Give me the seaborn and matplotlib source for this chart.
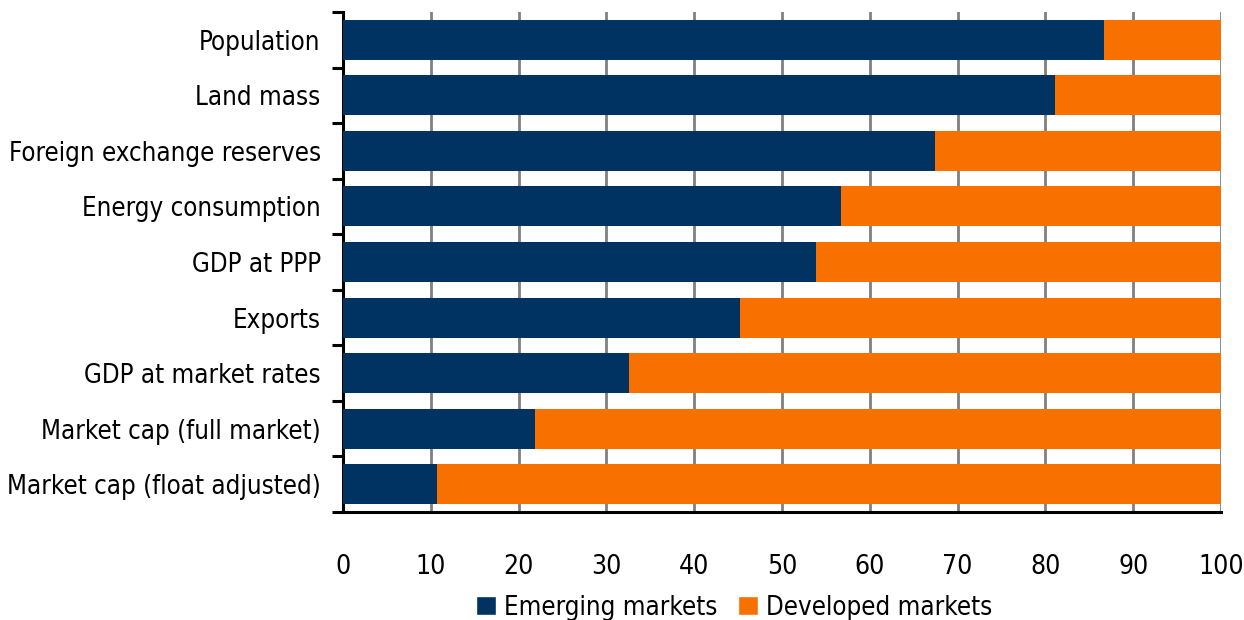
import numpy as np
import pandas as pd
import matplotlib
matplotlib.use("Agg")
import matplotlib.pyplot as plt
import seaborn as sns
from matplotlib.patches import Patch

categories = ["Population", "Land mass", "Foreign exchange reserves",
              "Energy consumption", "GDP at PPP", "Exports",
              "GDP at market rates", "Market cap (full market)",
              "Market cap (float adjusted)"]
emerging = [86.7, 81.1, 67.4, 56.7, 53.9, 45.2, 32.6, 21.9, 10.7]
developed = [13.3, 18.9, 32.6, 43.3, 46.1, 54.8, 67.4, 78.1, 89.3]

navy = "#003362"
orange = "#F87000"

df = pd.DataFrame({"Category": categories, "Emerging": emerging, "Developed": developed})
df["Total"] = df["Emerging"] + df["Developed"]

sns.set_style("white")
plt.rcParams["font.family"] = ["DejaVu Sans"]
plt.rcParams["font.stretch"] = "condensed"
plt.rcParams["text.color"] = "black"

fig = plt.figure(figsize=(12.44, 6.2), dpi=100)
ax = fig.add_axes([0.2757, 0.1742, 0.7058, 0.8064])

# orange = full bar, navy drawn on top
sns.barplot(data=df, x="Total", y="Category", color=orange, orient="h",
            width=0.72, saturation=1, linewidth=0, ax=ax, zorder=2)
sns.barplot(data=df, x="Emerging", y="Category", color=navy, orient="h",
            width=0.72, saturation=1, linewidth=0, ax=ax, zorder=3)

ax.set_xlim(0, 100)
ax.set_ylim(8.5, -0.5)
ax.set_xticks(np.arange(0, 101, 10))
ax.tick_params(axis="x", labelsize=19, length=10, width=2.2, pad=20, direction="out",
               color="black", labelcolor="black")

# category labels as minor ticks, boundary marks as major ticks
ax.set_yticks(np.arange(-0.5, 9, 1))
ax.set_yticklabels([])
ax.set_yticks(np.arange(len(categories)), minor=True)
ax.set_yticklabels(categories, minor=True)
ax.tick_params(axis="y", which="major", length=8, width=2.2, direction="out", color="black", left=True)
ax.tick_params(axis="y", which="minor", length=0, labelsize=18.5, pad=16, labelcolor="black")

ax.xaxis.grid(True, color="#808080", linewidth=2)
ax.yaxis.grid(False)
ax.set_axisbelow(True)
sns.despine(ax=ax, top=True, right=True)
for s in ["left", "bottom"]:
    ax.spines[s].set_color("black")
    ax.spines[s].set_linewidth(2.2)
ax.set_xlabel("")
ax.set_ylabel("")

handles = [Patch(facecolor=navy, label="Emerging markets"),
           Patch(facecolor=orange, label="Developed markets")]
fig.legend(handles=handles, loc="center", bbox_to_anchor=(0.59, 0.02), ncol=2,
           frameon=False, fontsize=18.5, handlelength=0.8, handleheight=0.8,
           handletextpad=0.3, columnspacing=0.8)

fig.savefig("out.png", dpi=100)
